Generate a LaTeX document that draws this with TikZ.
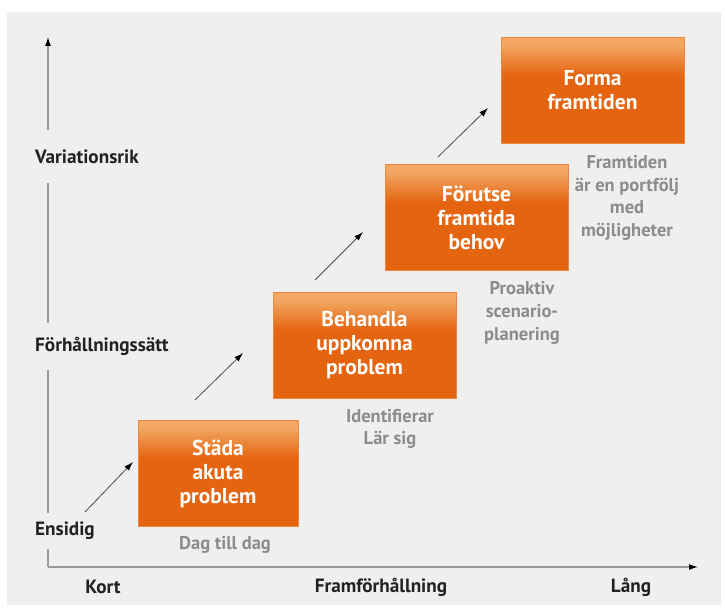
\documentclass[tikz,border=0pt]{standalone}
\usepackage{fontspec}
\setmainfont{PT Sans}
\usetikzlibrary{positioning,arrows.meta}
\definecolor{panelgray}{HTML}{EFEFEF}
\definecolor{ordeep}{HTML}{E4640F}
\definecolor{orlight}{HTML}{F2A864}
\definecolor{orrim}{HTML}{F0873A}
\definecolor{notegray}{HTML}{8C8C8C}
\definecolor{axisgray}{HTML}{9A9A9A}
\definecolor{inkgray}{HTML}{222222}
\pgfdeclareverticalshading{stepshade}{100bp}{color(0bp)=(ordeep); color(57bp)=(ordeep); color(72bp)=(orlight); color(100bp)=(orlight)}

\begin{document}
\begin{tikzpicture}[x=1pt,y=-1pt,
        stepbox/.style={shading=stepshade,draw=orrim,line width=1pt,text=white,font=\fontsize{21.5}{24}\selectfont\bfseries,align=center,inner sep=0pt,minimum height=106pt},
        note/.style={text=notegray,font=\fontsize{18.5}{22.7}\selectfont\bfseries,align=center,inner sep=0pt},
        axislabel/.style={text=inkgray,font=\fontsize{19.2}{22}\selectfont\bfseries,inner sep=0pt},
        axisline/.style={axisgray,line width=1.2pt},
        climb/.style={black!70,line width=.8pt,-{Latex[length=9pt,width=6pt,color=black]}}]
        \useasboundingbox (0,0) rectangle (725,609);
        \fill[white] (0,0) rectangle (725,609);
        \fill[panelgray] (7,12) rectangle (721,605);
        \coordinate (o) at (48,567);
        \coordinate (ytop) at (48,37);
        \coordinate (xend) at (698,567);
        \node[axislabel,anchor=west,minimum height=35pt] (ens) at (35,531) {Ensidig};
        \node[axislabel,anchor=west,minimum height=47pt] (forh) at (35,346.5) {Förhållningssätt};
        \node[axislabel,anchor=west,minimum height=53pt] (var) at (35,156.5) {Variationsrik};
        \draw[axisline] (o) -- (ens.south -| o);
        \draw[axisline] (ens.north -| o) -- (forh.south -| o);
        \draw[axisline] (forh.north -| o) -- (var.south -| o);
        \draw[axisline,-{Latex[length=9pt,width=6pt,color=black]}] (var.north -| o) -- (ytop);
        \draw[axisline,-{Latex[length=9pt,width=6pt,color=black]}] (o) -- (xend);
        \node[axislabel] (kort) at (103,587) {Kort};
        \node[axislabel] (framf) at (381,587) {Framförhållning};
        \node[axislabel] (lang) at (631,587) {Lång};
        \node[stepbox,minimum width=160pt] (s1) at (218,473.5) {Städa\\akuta\\problem};
        \node[stepbox,minimum width=183pt] (s2) at (364.5,345.5) {Behandla\\uppkomna\\problem};
        \node[stepbox,minimum width=183pt] (s3) at (476.5,218) {Förutse\\framtida\\behov};
        \node[stepbox,minimum width=183pt] (s4) at (592.5,90.5) {Forma\\framtiden};
        \node[note] (n1) at (225,545) {Dag till dag};
        \node[note] (n2) at (390,429) {Identifierar\\Lär sig};
        \node[note] (n3) at (522,313) {Proaktiv\\scenario-\\planering};
        \node[note] (n4) at (627,198) {Framtiden\\är en portfölj\\med\\möjligheter};
        \coordinate (a1) at (85,512);
        \coordinate (b1) at (133,462);
        \coordinate (a2) at (195,400);
        \coordinate (b2) at (243,353);
        \coordinate (a3) at (315,280);
        \coordinate (b3) at (363,232);
        \coordinate (a4) at (438,157);
        \coordinate (b4) at (488,108);
        \draw[climb] (a1) -- (b1);
        \draw[climb] (a2) -- (b2);
        \draw[climb] (a3) -- (b3);
        \draw[climb] (a4) -- (b4);
\end{tikzpicture}
\end{document}
